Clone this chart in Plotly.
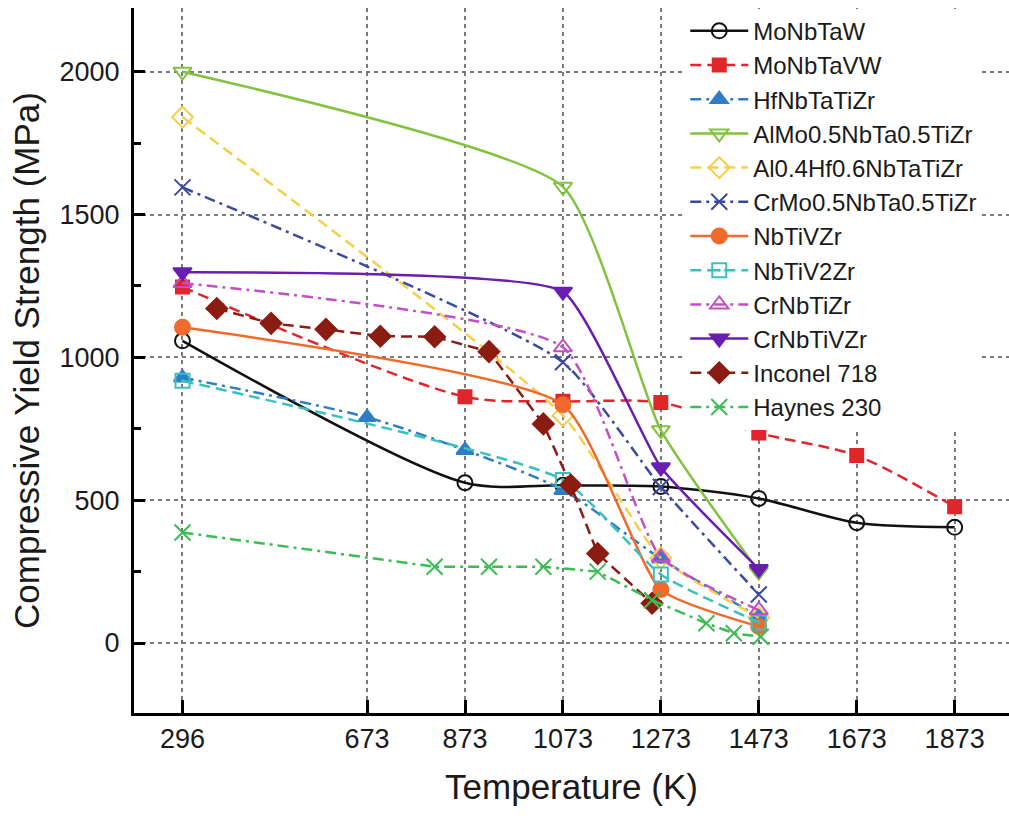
import plotly.graph_objects as go

# ---------------- data ----------------
tick_temps = [296, 673, 873, 1073, 1273, 1473, 1673, 1873]
tick_labels = ["296", "673", "873", "1073", "1273", "1473", "1673", "1873"]

t_mo = [296, 873, 1073, 1273, 1473, 1673, 1873]
MoNbTaW = [1058, 561, 552, 548, 506, 421, 405]
MoNbTaVW = [1246, 862, 846, 842, 735, 656, 477]

t_hf = [296, 673, 873, 1073, 1273, 1473]
HfNbTaTiZr = [929, 790, 675, 535, 295, 92]

t_four = [296, 1073, 1273, 1473]
AlMo05NbTa05TiZr = [2000, 1597, 745, 250]
Al04Hf06NbTaTiZr = [1841, 796, 298, 89]
CrMo05NbTa05TiZr = [1595, 983, 546, 170]
NbTiVZr = [1105, 834, 187, 58]
NbTiV2Zr = [918, 571, 240, 72]
CrNbTiZr = [1260, 1035, 300, 115]
CrNbTiVZr = [1298, 1230, 615, 259]

t_inconel = [366, 477, 589, 700, 811, 922, 1033, 1089, 1144, 1255]
Inconel718 = [1171, 1119, 1098, 1074, 1072, 1020, 767, 553, 313, 139]

t_haynes = [296, 811, 922, 1033, 1144, 1255, 1366, 1422, 1477]
Haynes230 = [387, 267, 267, 267, 250, 150, 69, 34, 22]

DASH = "11px,6px"
DASHDOT = "11px,5px,3px,5px"

series = [
    ("MoNbTaW", t_mo, MoNbTaW, "#111111", "solid", "circle-open", "white", 15, "spline", 0.8),
    ("MoNbTaVW", t_mo, MoNbTaVW, "#e0262a", DASH, "square", "#e0262a", 13, "spline", 0.8),
    ("HfNbTaTiZr", t_hf, HfNbTaTiZr, "#2f7dc4", DASHDOT, "triangle-up", "#2f7dc4", 15, "spline", 0.8),
    ("AlMo0.5NbTa0.5TiZr", t_four, AlMo05NbTa05TiZr, "#82c23f", "solid", "triangle-down-open", "white", 16, "spline", 0.5),
    ("Al0.4Hf0.6NbTaTiZr", t_four, Al04Hf06NbTaTiZr, "#f3d04a", DASH, "diamond-open", "white", 16, "spline", 0.5),
    ("CrMo0.5NbTa0.5TiZr", t_four, CrMo05NbTa05TiZr, "#3b4a9e", DASHDOT, "x-thin-open", "white", 16, "spline", 0.5),
    ("NbTiVZr", t_four, NbTiVZr, "#f06a2c", "solid", "circle", "#f06a2c", 15, "spline", 0.5),
    ("NbTiV2Zr", t_four, NbTiV2Zr, "#3cbfbf", DASH, "square-open-dot", "white", 14, "spline", 0.5),
    ("CrNbTiZr", t_four, CrNbTiZr, "#c14fc7", DASHDOT, "triangle-up-open", "white", 16, "spline", 0.5),
    ("CrNbTiVZr", t_four, CrNbTiVZr, "#6a1db2", "solid", "triangle-down", "#6a1db2", 16, "spline", 0.4),
    ("Inconel 718", t_inconel, Inconel718, "#8b1c12", DASH, "diamond", "#8b1c12", 16, "linear", 1.0),
    ("Haynes 230", t_haynes, Haynes230, "#3dbb55", DASHDOT, "x-thin-open", "white", 16, "linear", 1.0),
]

fig = go.Figure()
for name, xs, ys, color, dash, sym, fill, size, shape, smooth in series:
    fig.add_trace(go.Scatter(
        x=xs, y=ys, name=name, mode="lines+markers",
        line=dict(color=color, width=2.5, dash=dash, shape=shape, smoothing=smooth),
        marker=dict(symbol=sym, size=size, color=fill if fill != "white" else color,
                    line=dict(color=color, width=2)),
    ))

font_family = "Liberation Sans, Arial, sans-serif"
fig.update_layout(
    width=1009, height=816,
    margin=dict(l=134, r=0, t=8, b=103),
    paper_bgcolor="white", plot_bgcolor="white",
    font=dict(family=font_family, color="#1a1a1a"),
    showlegend=True,
    legend=dict(x=0.630, y=0.999, xanchor="left", yanchor="top",
                font=dict(size=24, family=font_family, color="#1a1a1a"),
                bgcolor="rgba(255,255,255,1)", borderwidth=0,
                itemwidth=58, tracegroupgap=0),
)
fig.update_xaxes(
    range=[197, 1984], tickmode="array", tickvals=tick_temps, ticktext=tick_labels,
    showline=True, linecolor="black", linewidth=3, mirror=False,
    ticks="inside", ticklen=13, tickwidth=2.5, tickcolor="black",
    tickfont=dict(size=27),
    showgrid=True, gridcolor="#7a7a7a", gridwidth=1.8, griddash="4px,4px",
    zeroline=False,
    title=dict(text="Temperature (K)", font=dict(size=35), standoff=22),
)
fig.update_yaxes(
    range=[-245, 2223], tickmode="array", tickvals=[0, 500, 1000, 1500, 2000],
    showline=True, linecolor="black", linewidth=3, mirror=False,
    ticks="inside", ticklen=11, tickwidth=2.5, tickcolor="black",
    minor=dict(tickvals=[250, 750, 1250, 1750], ticks="inside", ticklen=7,
               tickwidth=2.5, tickcolor="black", showgrid=False),
    tickfont=dict(size=27), ticklabelstandoff=6,
    showgrid=True, gridcolor="#7a7a7a", gridwidth=1.8, griddash="4px,4px",
    zeroline=False,
    title=dict(text="Compressive Yield Strength (MPa)", font=dict(size=35), standoff=10),
)

fig.write_html("out.html")
